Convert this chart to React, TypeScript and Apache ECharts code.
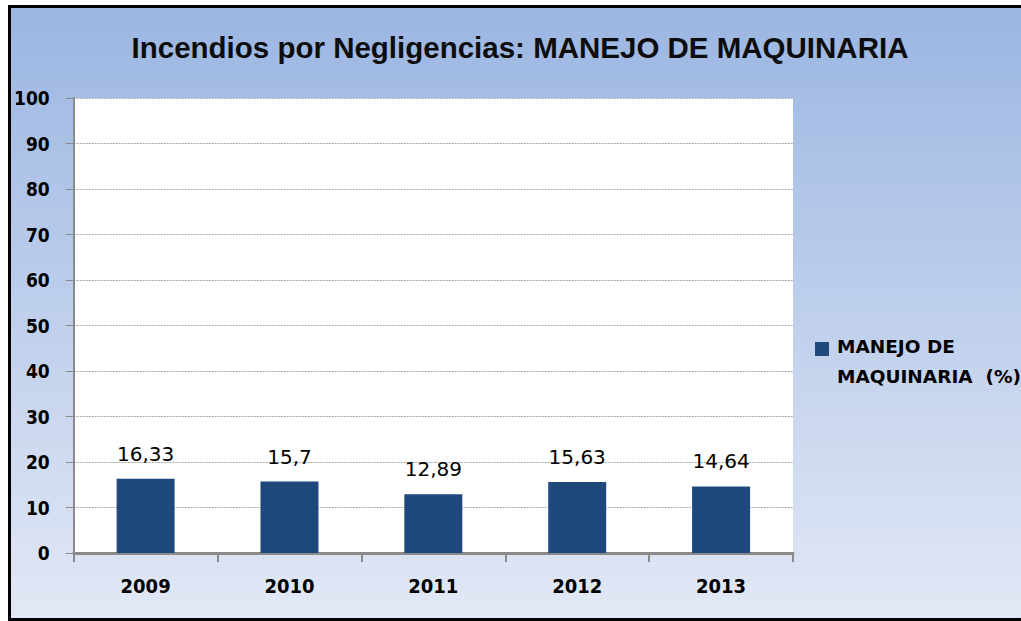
import React, { useEffect, useRef } from "react";
import * as echarts from "echarts";

const TITLE = "Incendios por Negligencias: MANEJO DE MAQUINARIA";
const SERIES_NAME = "MANEJO DE MAQUINARIA  (%)";
const LEGEND_LINES = ["MANEJO DE", "MAQUINARIA  (%)"];
const years = ["2009", "2010", "2011", "2012", "2013"];
const values = [16.33, 15.7, 12.89, 15.63, 14.64];

const FONT = "'DejaVu Sans Condensed', 'DejaVu Sans', sans-serif";

export default function App() {
  const ref = useRef<HTMLDivElement>(null);
  useEffect(() => {
    if (!ref.current) return;
    document.documentElement.style.overflow = "hidden";
    document.body.style.overflow = "hidden";
    const chart = echarts.init(ref.current, null, { renderer: "svg" });
    chart.setOption({
      animation: false,
      backgroundColor: "transparent",
      title: {
        text: TITLE,
        left: 504,
        top: 19,
        textAlign: "center",
        textStyle: {
          fontFamily: "'Liberation Sans', sans-serif",
          fontSize: 29.5,
          fontWeight: "bold",
          color: "#0d0d0d",
        },
      },
      grid: {
        left: 62,
        right: 235,
        top: 90,
        bottom: 65,
        show: true,
        backgroundColor: "#ffffff",
        borderWidth: 0,
      },
      xAxis: {
        type: "category",
        data: years,
        axisLine: { lineStyle: { color: "#8a8a8a", width: 3 } },
        axisTick: { show: true, length: 9, lineStyle: { color: "#8a8a8a", width: 2 } },
        axisLabel: {
          margin: 23,
          fontFamily: FONT,
          fontSize: 20,
          fontWeight: "bold",
          color: "#000",
        },
      },
      yAxis: {
        type: "value",
        min: 0,
        max: 100,
        interval: 10,
        axisLine: { show: true, lineStyle: { color: "#8a8a8a", width: 2 } },
        axisTick: { show: true, length: 8, lineStyle: { color: "#8a8a8a", width: 1 } },
        axisLabel: {
          margin: 24,
          fontFamily: FONT,
          fontSize: 19,
          fontWeight: "bold",
          color: "#000",
        },
        splitLine: {
          show: true,
          lineStyle: { color: "#a8a8a8", type: [2, 1], width: 1 },
        },
      },
      series: [
        {
          type: "bar",
          name: SERIES_NAME,
          data: values,
          barWidth: 58,
          itemStyle: { color: "#1f497d" },
          label: {
            show: true,
            position: "top",
            distance: 15,
            fontFamily: "'DejaVu Sans', sans-serif",
            fontSize: 20,
            color: "#000",
            formatter: (p: any) => String(p.value).replace(".", ","),
          },
        },
      ],
      graphic: [
        {
          type: "rect",
          left: 804,
          top: 334,
          shape: { width: 14, height: 14 },
          style: { fill: "#1f497d" },
        },
        {
          type: "text",
          left: 826,
          top: 323,
          style: {
            text: LEGEND_LINES.join("\n"),
            fontFamily: "'DejaVu Sans', sans-serif",
            fontSize: 18.5,
            fontWeight: "bold",
            lineHeight: 30,
            fill: "#000",
          },
        },
      ],
    });
    return () => chart.dispose();
  }, []);

  return (
    <div
      style={{
        position: "absolute",
        left: 8,
        top: 5,
        width: 1024,
        height: 616,
        boxSizing: "border-box",
        borderLeft: "3px solid #000",
        borderTop: "3px solid #000",
        borderBottom: "3px solid #000",
        background: "linear-gradient(to bottom, #9bb6e2, #e2e8f5)",
      }}
    >
      <div ref={ref} style={{ width: 1017, height: 610 }} />
    </div>
  );
}
